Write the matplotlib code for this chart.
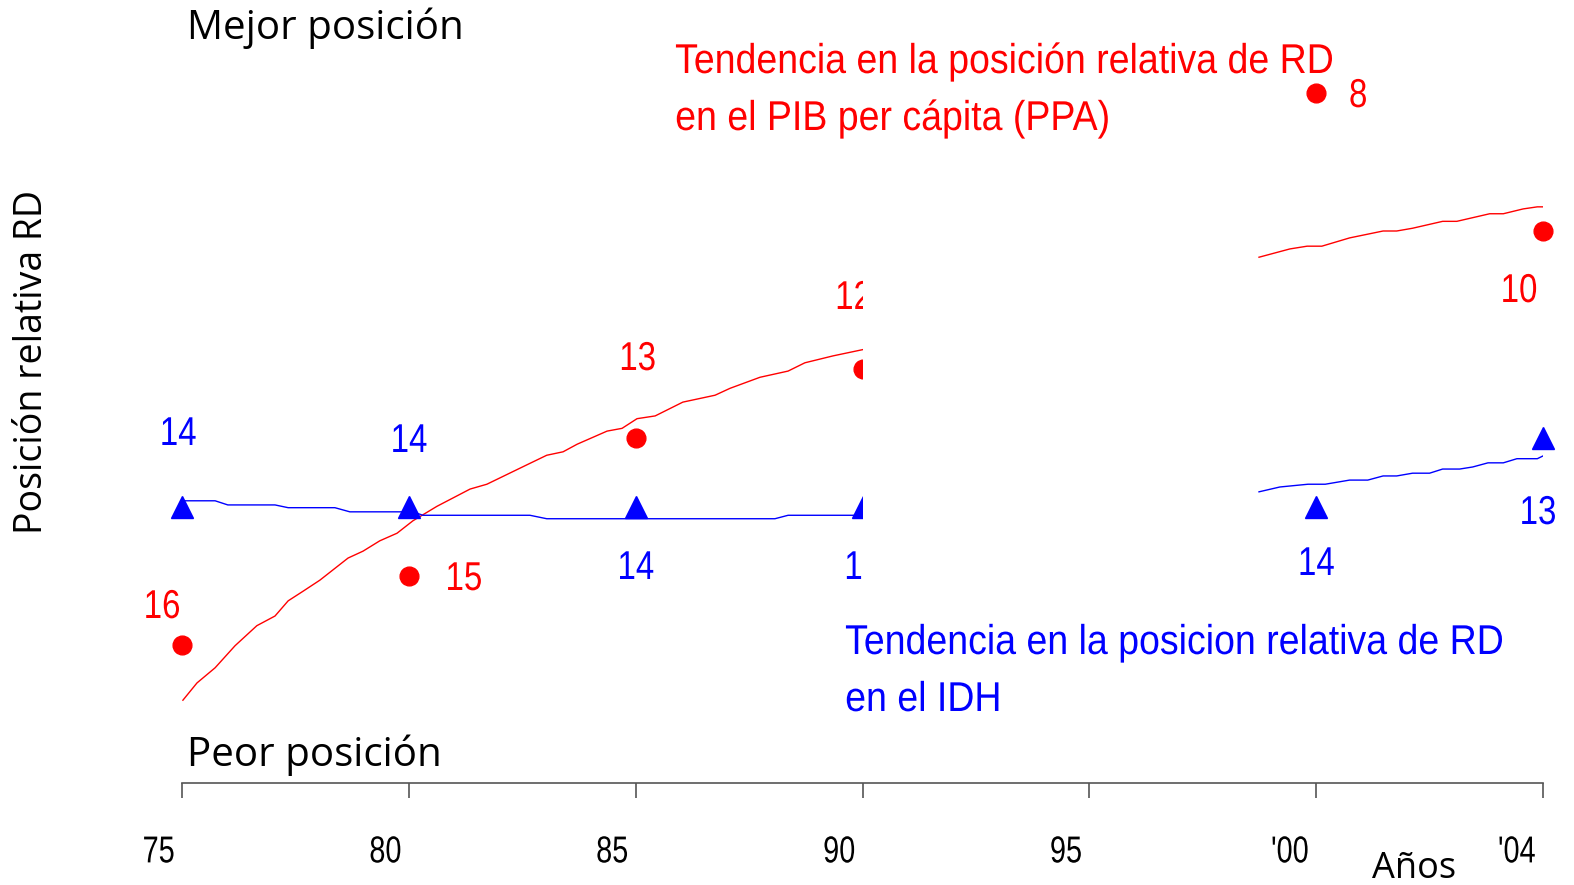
import matplotlib
matplotlib.use('Agg')
import matplotlib.pyplot as plt
from matplotlib.patches import Rectangle
from matplotlib.transforms import ScaledTranslation, Affine2D
from matplotlib.patheffects import AbstractPathEffect

# data (rank: 1 = best)
tick_years = [1975, 1980, 1985, 1990, 1995, 2000, 2004]
tick_labels = ['75', '80', '85', '90', '95', "'00", "'04"]

pib_years = [1975, 1980, 1985, 1990, 2000, 2004]
pib_rank = [16, 15, 13, 12, 8, 10]
idh_years = [1975, 1980, 1985, 1990, 2000, 2004]
idh_rank = [14, 14, 14, 14, 14, 13]

# trend lines (year, rank)
pib_trend_a_x = [1975.02, 1975.33, 1975.73, 1976.17, 1976.65, 1977.05, 1977.34, 1977.67, 1978.04,
                 1978.66, 1978.99, 1979.36, 1979.74, 1980.09, 1980.62, 1981.35, 1981.72, 1982.63,
                 1983.04, 1983.40, 1983.71, 1984.37, 1984.70, 1985.03, 1985.43, 1986.04, 1986.75,
                 1987.08, 1987.74, 1988.36, 1988.73, 1989.35, 1990.0]
pib_trend_a_y = [16.80, 16.55, 16.33, 16.01, 15.72, 15.58, 15.36, 15.22, 15.06,
                 14.74, 14.64, 14.49, 14.38, 14.20, 13.99, 13.74, 13.67, 13.38,
                 13.25, 13.20, 13.09, 12.90, 12.86, 12.72, 12.68, 12.48, 12.38,
                 12.28, 12.12, 12.03, 11.91, 11.81, 11.72]
pib_trend_b_x = [1998.74, 1999.42, 1999.80, 2000.10, 2000.59, 2001.18, 2001.42, 2001.70,
                 2002.23, 2002.48, 2003.06, 2003.30, 2003.65, 2003.90, 2004.0]
pib_trend_b_y = [10.38, 10.26, 10.22, 10.22, 10.10, 10.00, 10.00, 9.96,
                 9.86, 9.86, 9.75, 9.75, 9.68, 9.65, 9.65]

idh_trend_a_x = [1975.02, 1975.73, 1976.01, 1977.05, 1977.34, 1978.37, 1978.70, 1980.09,
                 1980.31, 1982.67, 1983.04, 1988.07, 1988.36, 1990.0]
idh_trend_a_y = [13.91, 13.91, 13.97, 13.97, 14.01, 14.01, 14.07, 14.07,
                 14.12, 14.12, 14.17, 14.17, 14.12, 14.12]
idh_trend_b_x = [1998.74, 1999.20, 1999.82, 2000.16, 2000.59, 2000.91, 2001.18, 2001.42,
                 2001.70, 2002.00, 2002.23, 2002.53, 2002.76, 2003.03, 2003.30, 2003.54, 2003.90, 2004.0]
idh_trend_b_y = [13.78, 13.71, 13.67, 13.67, 13.61, 13.61, 13.55, 13.55,
                 13.51, 13.51, 13.45, 13.45, 13.42, 13.36, 13.36, 13.30, 13.30, 13.26]


def pos(years):
    # the last gap (2000 -> 2004) is drawn as wide as the 5-year gaps
    out = []
    for y in years:
        out.append(y - 1975 if y <= 2000 else 25 + (y - 2000) * 1.25)
    return out


class Condense(AbstractPathEffect):
    # squeeze text horizontally, to get an Arial Narrow look
    def __init__(self, sx=0.82, anchor='left'):
        super().__init__()
        self.sx = sx
        self.anchor = anchor

    def draw_path(self, renderer, gc, tpath, affine, rgbFace=None):
        ext = tpath.get_extents(affine)
        if self.anchor == 'left':
            x0 = ext.x0
        elif self.anchor == 'right':
            x0 = ext.x1
        else:
            x0 = (ext.x0 + ext.x1) / 2
        t = affine + Affine2D().translate(-x0, 0).scale(self.sx, 1).translate(x0, 0)
        renderer.draw_path(gc, tpath, t, rgbFace)


narrow = ['Liberation Sans', 'DejaVu Sans']
plain = ['Open Sans', 'DejaVu Sans']
red = '#ff0000'
blue = '#0000ff'

fig = plt.figure(figsize=(15.74, 8.85), dpi=100)
ax = fig.add_axes([182 / 1574, 102 / 885, 1361 / 1574, 783 / 885])
ax.set_xlim(0, 30)
ax.set_ylim(18.0, 18.0 - 783 / 69)

for s in ['top', 'right', 'left']:
    ax.spines[s].set_visible(False)
ax.spines['bottom'].set_color('#555555')
ax.spines['bottom'].set_linewidth(1.2)
ax.set_yticks([])
ax.set_xticks(pos(tick_years))
ax.set_xticklabels(tick_labels, family=narrow, fontsize=27, ha='right')
ax.tick_params(axis='x', direction='out', length=11, width=1.2, color='#555555', pad=26)
off = ScaledTranslation(-7 / 100, 0, fig.dpi_scale_trans)
for lab in ax.get_xticklabels():
    lab.set_transform(lab.get_transform() + off)
    lab.set_path_effects([Condense(0.77, 'right')])

# trend lines
ax.plot(pos(pib_trend_a_x), pib_trend_a_y, color=red, lw=1, zorder=2)
ax.plot(pos(pib_trend_b_x), pib_trend_b_y, color=red, lw=1, zorder=2)
ax.plot(pos(idh_trend_a_x), idh_trend_a_y, color=blue, lw=1, zorder=2)
ax.plot(pos(idh_trend_b_x), idh_trend_b_y, color=blue, lw=1, zorder=2)

# points
ax.plot(pos(pib_years), pib_rank, 'o', color=red, ms=13.5, zorder=3, clip_on=False)
ax.plot(pos(idh_years), idh_rank, '^', color=blue, ms=16, zorder=3, clip_on=False)

# value labels (offsets in pixels)
pib_off = [(-20, 38), (55, -3), (2, 79), (-9, 71), (42, -3), (-24, -60)]
idh_off = [(-4, 73), (0, 66), (0, -61), (0, -61), (0, -57), (-5, -75)]
for x, r, o in zip(pos(pib_years), pib_rank, pib_off):
    ax.annotate(str(r), (x, r), xytext=o, textcoords='offset pixels', ha='center', va='center',
                color=red, fontsize=29, family=narrow, zorder=3,
                path_effects=[Condense(0.82, 'center')])
for x, r, o in zip(pos(idh_years), idh_rank, idh_off):
    ax.annotate(str(r), (x, r), xytext=o, textcoords='offset pixels', ha='center', va='center',
                color=blue, fontsize=29, family=narrow, zorder=3,
                path_effects=[Condense(0.82, 'center')])

# white block over the 90s
ax.add_patch(Rectangle((15.0, 8.84), 8.63, 6.6, facecolor='white', edgecolor='none', zorder=4))

# texts
fig.text(187 / 1574, 1 - 39 / 885, 'Mejor posición', fontsize=29, family=plain, va='baseline')
fig.text(187 / 1574, 1 - 766 / 885, 'Peor posición', fontsize=29, family=plain, va='baseline')
fig.text(1372 / 1574, 1 - 878 / 885, 'Años', fontsize=26, family=plain, va='baseline')
fig.text(32 / 1574, 1 - 362 / 885, 'Posición relativa RD', fontsize=27, family=plain,
         rotation=90, ha='center', va='center')
cond = [Condense(0.9, 'left')]
fig.text(675 / 1574, 1 - 73 / 885, 'Tendencia en la posición relativa de RD', color=red,
         fontsize=30, family=narrow, va='baseline', zorder=5, path_effects=cond)
fig.text(675 / 1574, 1 - 130 / 885, 'en el PIB per cápita (PPA)', color=red,
         fontsize=30, family=narrow, va='baseline', zorder=5, path_effects=cond)
fig.text(845 / 1574, 1 - 654 / 885, 'Tendencia en la posicion relativa de RD', color=blue,
         fontsize=30, family=narrow, va='baseline', zorder=5, path_effects=cond)
fig.text(845 / 1574, 1 - 711 / 885, 'en el IDH', color=blue,
         fontsize=30, family=narrow, va='baseline', zorder=5, path_effects=cond)

fig.savefig('out.png', dpi=100)
